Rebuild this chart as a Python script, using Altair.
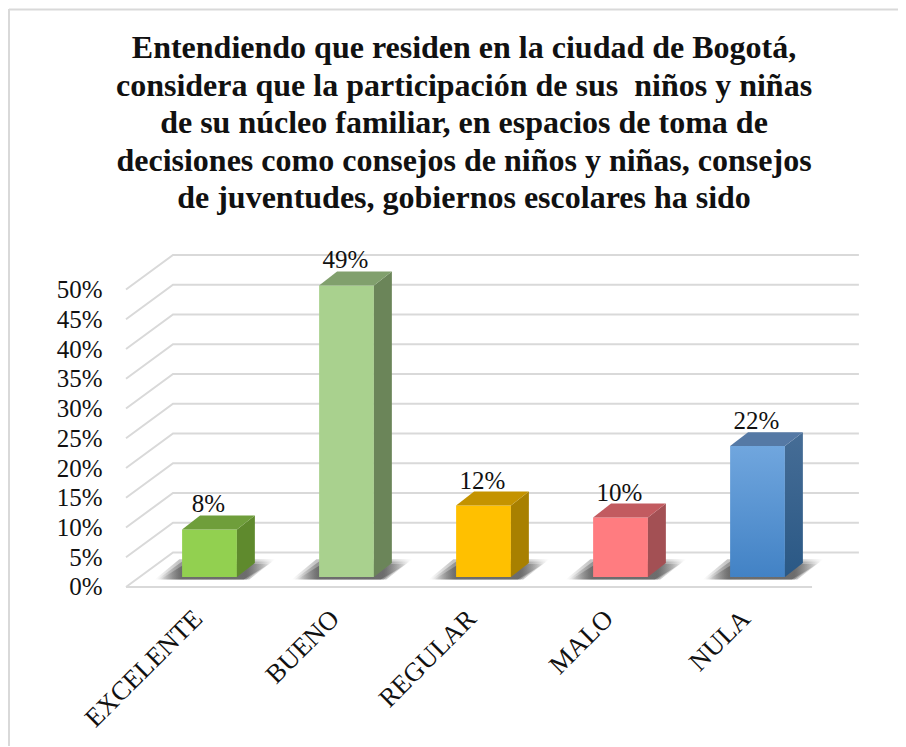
import altair as alt
import pandas as pd

categories = ["EXCELENTE", "BUENO", "REGULAR", "MALO", "NULA"]
values = [8, 49, 12, 10, 22]
tick_levels = [0, 5, 10, 15, 20, 25, 30, 35, 40, 45, 50]
front_top = ["#92d050", "#a9d18e", "#ffc000", "#ff7c80", "#70a6de"]
front_bottom = ["#92d050", "#a9d18e", "#ffc000", "#ff7c80", "#4282c5"]
side_top = ["#5f8a2d", "#6b8559", "#a88000", "#a35054", "#466d96"]
side_bottom = ["#5f8a2d", "#6b8559", "#a88000", "#a35054", "#2a5885"]
top_colors = ["#6f9e3b", "#81a06d", "#c49300", "#c25b60", "#5579a5"]
title_lines = [
    "Entendiendo que residen en la ciudad de Bogotá,",
    "considera que la participación de sus\u00a0 niños y niñas",
    "de su núcleo familiar, en espacios de toma de",
    "decisiones como consejos de niños y niñas, consejos",
    "de juventudes, gobiernos escolares ha sido",
]

SERIF = "Liberation Serif"
GRID = "#d9d9d9"
HALF = 0.2          # half bar width, in category units
BAR_DX, BAR_DY = 0.131, 2.35   # bar depth
BASE = 1.68         # bar foot above the front floor edge
WALL_DY = 5.8       # floor depth
LEFT_F, LEFT_B, RIGHT_F, RIGHT_B = 0.3905, 0.7336, 5.398, 5.74

xs = alt.Scale(domain=[0.2591, 5.748], nice=False, zero=False)
ys = alt.Scale(domain=[-2.185, 56.64], nice=False, zero=False)
X = lambda f="x": alt.X(f"{f}:Q", scale=xs, title=None)
Y = lambda f="y": alt.Y(f"{f}:Q", scale=ys, title=None)

def grad(c1, c2):
    return alt.Gradient(gradient="linear", x1=0, y1=0, x2=0, y2=1,
                        stops=[alt.GradientStop(color=c1, offset=0),
                               alt.GradientStop(color=c2, offset=1)])

def shadow_grad(a):
    clear = "rgba(60,60,60,0)"
    solid = f"rgba(60,60,60,{a})"
    return alt.Gradient(gradient="linear", x1=0, y1=0, x2=1, y2=0,
                        stops=[alt.GradientStop(color=clear, offset=0),
                               alt.GradientStop(color=solid, offset=0.2),
                               alt.GradientStop(color=solid, offset=0.78),
                               alt.GradientStop(color=clear, offset=1)])

# walls
rows = []
for lv in tick_levels:
    rows += [dict(level=lv, x=LEFT_F, y=lv), dict(level=lv, x=LEFT_B, y=lv + WALL_DY),
             dict(level=lv, x=RIGHT_B, y=lv + WALL_DY)]
labels_expr = "[" + ",".join(f"'{c}'" for c in categories) + "][datum.value-1]"
grid = alt.Chart(pd.DataFrame(rows)).mark_line(color=GRID, strokeWidth=2).encode(
    x=alt.X("x:Q", scale=xs, title=None, axis=alt.Axis(
        values=[1, 2, 3, 4, 5], labelExpr=labels_expr, labelAngle=-45, labelFont=SERIF,
        labelFontSize=26.5, labelColor="#111111", domain=False, ticks=False, grid=False,
        labelPadding=5, labelOffset=-21, labelOverlap=False, labelBound=False, labelFlush=False)),
    y=alt.Y("y:Q", scale=ys, title=None, axis=alt.Axis(
        values=tick_levels, tickCount=len(tick_levels), labelExpr="datum.value + '%'",
        labelFont=SERIF, labelFontSize=25,
        labelColor="#111111", domain=False, ticks=False, grid=False, labelPadding=6,
        labelOverlap=False, labelBound=False, labelFlush=False)),
    detail="level:N",
)
floor = alt.Chart(pd.DataFrame({"x": [LEFT_F, RIGHT_F], "y": [0, 0]})).mark_line(
    color=GRID, strokeWidth=2).encode(x=X(), y=Y())

layers = [grid, floor]

# soft shadows on the floor
for i, v in enumerate(values):
    c = i + 1
    for grow, top_off, a in [(0.04, 3.0, 0.3), (0.02, 2.6, 0.35), (0.0, 2.2, 0.45)]:
        sh = pd.DataFrame({
            "y": [BASE - 0.4, BASE + top_off],
            "x": [c - HALF - 0.16 - grow, c - HALF + 0.02 - grow],
            "x2": [c + HALF + 0.05 + grow, c + HALF + 0.24 + grow],
        })
        layers.append(alt.Chart(sh).mark_area(orient="horizontal", color=shadow_grad(a)).encode(
            y=Y(), x=X(), x2="x2:Q"))
# faces
for i, v in enumerate(values):
    c = i + 1
    top = v + BASE
    front = pd.DataFrame({"x": [c - HALF], "x2": [c + HALF], "y": [BASE], "y2": [top]})
    layers.append(alt.Chart(front).mark_rect(color=grad(front_top[i], front_bottom[i])).encode(
        x=X(), x2="x2:Q", y=Y(), y2="y2:Q"))
    side = pd.DataFrame({"x": [c + HALF, c + HALF + BAR_DX], "y": [BASE, BASE + BAR_DY],
                         "y2": [top, top + BAR_DY]})
    layers.append(alt.Chart(side).mark_area(color=grad(side_top[i], side_bottom[i])).encode(
        x=X(), y=Y(), y2="y2:Q"))
    cap = pd.DataFrame({"y": [top, top + BAR_DY], "x": [c - HALF, c - HALF + BAR_DX],
                        "x2": [c + HALF, c + HALF + BAR_DX]})
    layers.append(alt.Chart(cap).mark_area(orient="horizontal", color=top_colors[i]).encode(
        y=Y(), x=X(), x2="x2:Q"))

# value labels
lab = pd.DataFrame({"x": [i + 1 for i in range(len(values))],
                    "y": [v + BASE + BAR_DY for v in values],
                    "t": [f"{v}%" for v in values]})
layers.append(alt.Chart(lab).mark_text(font=SERIF, fontSize=25, color="#111111", baseline="alphabetic", dy=-3, dx=-1).encode(
    x=X(), y=Y(), text="t:N"))

# page frame
one = pd.DataFrame({"a": [0]})
layers.append(alt.Chart(one).mark_rule(color=GRID, strokeWidth=2).encode(
    x=alt.value(-99), y=alt.value(-241), y2=alt.value(505)))
layers.append(alt.Chart(one).mark_rule(color=GRID, strokeWidth=2).encode(
    x=alt.value(-99), x2=alt.value(800), y=alt.value(-240.5)))

chart = alt.layer(*layers).properties(
    width=752, height=350,
    padding={"left": 100, "top": 242, "right": 38, "bottom": 146},
    autosize=alt.AutoSizeParams(type="none"),
    title=alt.TitleParams(text=title_lines, font=SERIF, fontWeight="bold", fontSize=32,
                          lineHeight=37.5, anchor="middle", dx=-20, offset=0, dy=207, color="#111111"),
    background="white",
).configure_view(stroke=None).configure_axis(labelOverlap=False, labelSeparation=0)

chart.save("out.html", embed_options={"renderer": "svg", "actions": False})
